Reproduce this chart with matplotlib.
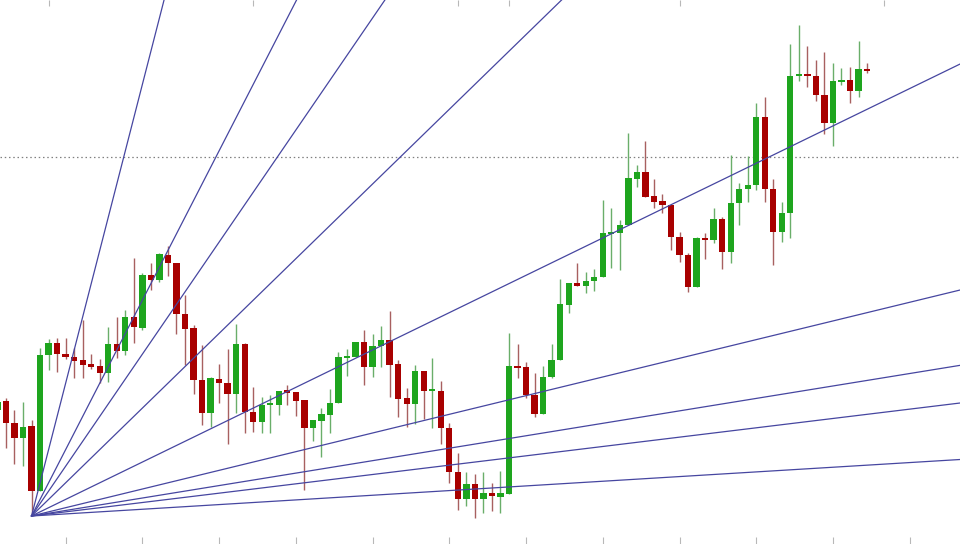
import numpy as np
import matplotlib
matplotlib.use("Agg")
import matplotlib.pyplot as plt

# -------- DATA (price units) --------
bar_index = np.arange(-1, 102)

opens = [134, 143, 121, 106, 118, 53, 189, 201, 190, 187, 184, 180, 178, 171, 200, 193,
         227, 216, 269, 264, 289, 281, 230, 216, 164, 131, 165, 161, 150, 200, 132,
         122, 139, 139, 154, 152, 144, 116, 123, 129, 141, 186, 187, 202, 177, 198,
         204, 180, 146, 140, 173, 153, 153, 116, 72, 45, 60, 45, 51, 47, 50, 178,
         177, 149, 130, 167, 184, 239, 261, 258, 263, 267, 310, 311, 319, 365, 372,
         348, 343, 339, 307, 289, 257, 306, 304, 325, 292, 341, 355, 359, 427, 355,
         312, 331, 468, 470, 468, 449, 421, 462, 464, 453, 475]
highs = [149, 146, 134, 142, 124, 196, 205, 206, 206, 196, 224, 190, 185, 217, 227, 234,
         286, 271, 281, 291, 298, 281, 249, 219, 199, 167, 180, 195, 220, 201, 157,
         147, 149, 153, 159, 152, 144, 124, 136, 155, 192, 195, 202, 214, 210, 218,
         233, 184, 156, 179, 173, 186, 163, 121, 91, 72, 70, 72, 61, 73, 211, 200,
         182, 171, 178, 200, 265, 261, 281, 272, 275, 344, 336, 324, 411, 379, 403,
         365, 350, 339, 312, 291, 307, 311, 336, 327, 389, 361, 388, 441, 447, 365,
         342, 500, 519, 498, 484, 492, 481, 476, 477, 503, 481]
lows = [124, 96, 80, 78, 28, 53, 174, 172, 185, 166, 166, 175, 161, 162, 186, 189,
        201, 214, 254, 262, 268, 210, 179, 150, 119, 117, 141, 100, 131, 111, 112,
        111, 111, 129, 139, 128, 54, 103, 87, 111, 141, 168, 187, 159, 167, 177,
        147, 127, 117, 120, 125, 116, 100, 61, 34, 38, 26, 31, 33, 31, 50, 166,
        146, 127, 130, 166, 184, 231, 258, 251, 253, 267, 276, 274, 319, 357, 347,
        336, 331, 294, 282, 252, 257, 285, 301, 275, 281, 319, 342, 354, 342, 279,
        302, 306, 463, 457, 443, 410, 398, 459, 441, 447, 471]
closes = [142, 121, 106, 117, 53, 189, 201, 190, 187, 183, 179, 177, 171, 200, 193, 227,
          217, 269, 264, 290, 281, 230, 215, 164, 131, 166, 161, 150, 200, 132, 122,
          139, 140, 153, 151, 143, 116, 124, 130, 141, 187, 187, 202, 177, 198, 204,
          179, 145, 140, 173, 153, 154, 116, 72, 45, 60, 45, 51, 48, 51, 178, 176,
          149, 130, 167, 184, 240, 261, 258, 263, 267, 311, 311, 319, 366, 372, 347,
          342, 339, 307, 289, 257, 306, 304, 325, 292, 341, 355, 359, 427, 355, 312,
          331, 468, 470, 468, 449, 421, 463, 464, 453, 475, 473]

# Gann fan anchored at the swing low
fan_anchor_bar = 3
fan_anchor_price = 28
fan_unit = 4.15          # price per bar for the 1x1 line
fan_ratios = [8, 4, 3, 2, 1, 1 / 2, 1 / 3, 1 / 4, 1 / 8]

level_price = 387        # dotted horizontal level

bottom_ticks = np.arange(7, 112, 9)
top_ticks = [5, 29, 53, 59, 79, 103]

# -------- STYLE --------
UP_BODY = "#1ea51e"
UP_WICK = "#6aae6a"
DN_BODY = "#a80000"
DN_WICK = "#a86060"
FAN_COLOR = "#4646a0"
TICK_COLOR = "#b8b8b8"

fig = plt.figure(figsize=(9.6, 5.44), dpi=100)
ax = fig.add_axes([0, 0, 1, 1])

o = np.array(opens, float)
h = np.array(highs, float)
l = np.array(lows, float)
c = np.array(closes, float)
up = c >= o

# wicks
ax.vlines(bar_index[up], l[up], h[up], color=UP_WICK, linewidth=1.0, zorder=2)
ax.vlines(bar_index[~up], l[~up], h[~up], color=DN_WICK, linewidth=1.0, zorder=2)

# bodies (keep dojis visible)
body_lo = np.minimum(o, c)
body_h = np.maximum(np.abs(c - o), 1.6)
ax.bar(bar_index[up], body_h[up], bottom=body_lo[up], width=0.74,
       color=UP_BODY, linewidth=0, zorder=3)
ax.bar(bar_index[~up], body_h[~up], bottom=body_lo[~up], width=0.74,
       color=DN_BODY, linewidth=0, zorder=3)

# gann fan
x_end = 130
for r in fan_ratios:
    ax.plot([fan_anchor_bar, x_end],
            [fan_anchor_price, fan_anchor_price + r * fan_unit * (x_end - fan_anchor_bar)],
            color=FAN_COLOR, linewidth=0.9, zorder=4)

ax.axhline(level_price, color="#808080", linewidth=0.9, linestyle=(0, (1.2, 2.2)), zorder=1)

ax.set_xlim(-0.7, 111.9)
ax.set_ylim(0, 544)

for s in ax.spines.values():
    s.set_visible(False)
ax.set_yticks([])
ax.set_xticks(bottom_ticks)
ax.set_xticklabels([])
ax.tick_params(axis="x", direction="in", length=5, width=0.8, color=TICK_COLOR, pad=0)

top = ax.secondary_xaxis("top")
top.set_xticks(top_ticks)
top.set_xticklabels([])
top.tick_params(axis="x", direction="in", length=4, width=0.8, color=TICK_COLOR)
for s in top.spines.values():
    s.set_visible(False)

fig.savefig("out.png", dpi=100, facecolor="white")
plt.close(fig)
